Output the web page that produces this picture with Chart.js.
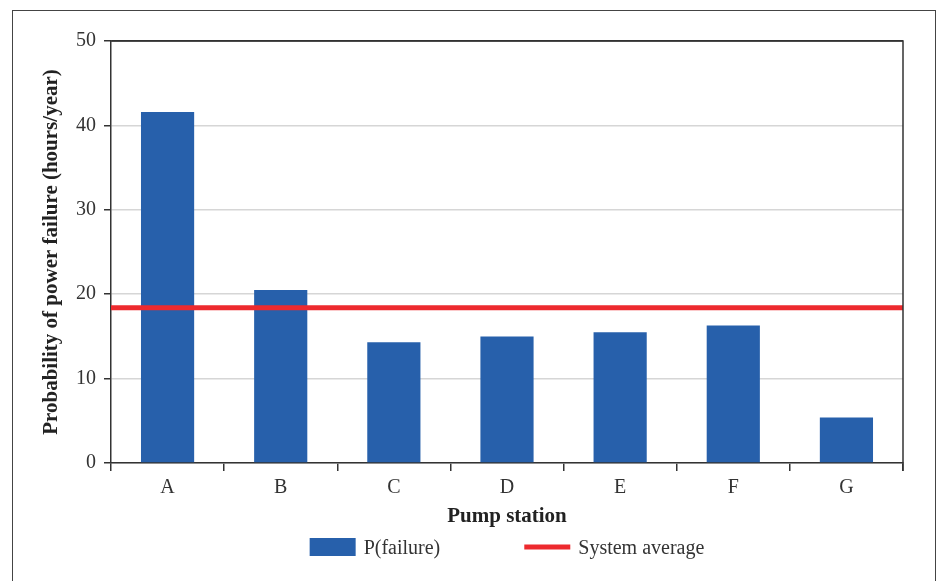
<!DOCTYPE html>
<html>
<head>
<meta charset="utf-8">
<script src="https://cdn.jsdelivr.net/npm/chart.js@4"></script>
<style>
  html, body { margin: 0; padding: 0; background: #fff; overflow: hidden; }
  #frame { position: absolute; left: 12px; top: 10px; width: 922px; height: 600px; border: 1.5px solid #444; }
  #wrap { position: absolute; left: 0; top: 0; width: 940px; height: 581px; }
</style>
</head>
<body>
<div id="frame"></div>
<div id="wrap"><canvas id="myChart" width="940" height="581"></canvas></div>
<script>
// pump stations and yearly failure hours
var stations = ['A', 'B', 'C', 'D', 'E', 'F', 'G'];
var failureHours = [41.6, 20.5, 14.3, 15.0, 15.5, 16.3, 5.4];
var systemAverage = [18.4, 18.4];
var avgSpan = [0, 1]; // across the whole plot width
var yTicks = [0, 10, 20, 30, 40, 50];

var serif = "'Liberation Serif', 'Times New Roman', serif";
var ctx = document.getElementById('myChart').getContext('2d');

// draws the top and right edge of the plot box
var plotBox = {
  id: 'plotBox',
  afterDatasetsDraw: function(chart) {
    var a = chart.chartArea;
    var c = chart.ctx;
    c.save();
    c.strokeStyle = '#333';
    c.lineWidth = 1.5;
    c.beginPath();
    c.moveTo(a.left, a.top);
    c.lineTo(a.right, a.top);
    c.lineTo(a.right, a.bottom + 8);
    c.stroke();
    c.restore();
  }
};

// legend under the axis title, items spaced apart like the original
var bottomLegend = {
  id: 'bottomLegend',
  afterDraw: function(chart) {
    var c = chart.ctx;
    var a = chart.chartArea;
    var ds = chart.data.datasets;
    c.save();
    c.font = '20px ' + serif;
    c.textBaseline = 'middle';
    var boxW = 46, gapText = 8, gapItems = 84, y = 547;
    var w1 = c.measureText(ds[0].label).width;
    var w2 = c.measureText(ds[1].label).width;
    var total = boxW + gapText + w1 + gapItems + boxW + gapText + w2;
    var x = (a.left + a.right) / 2 - total / 2;
    c.fillStyle = ds[0].backgroundColor;
    c.fillRect(x, y - 9, boxW, 18);
    c.fillStyle = '#333';
    c.fillText(ds[0].label, x + boxW + gapText, y + 2);
    x += boxW + gapText + w1 + gapItems;
    c.strokeStyle = ds[1].borderColor;
    c.lineWidth = ds[1].borderWidth;
    c.beginPath();
    c.moveTo(x, y);
    c.lineTo(x + boxW, y);
    c.stroke();
    c.fillText(ds[1].label, x + boxW + gapText, y + 2);
    c.restore();
  }
};

var myChart = new Chart(ctx, {
  type: 'bar',
  data: {
    labels: stations,
    datasets: [{
      label: 'P(failure)',
      data: failureHours,
      backgroundColor: '#2760ab',
      barPercentage: 0.47,
      categoryPercentage: 1,
      grouped: false,
      order: 1
    },
    {
      type: 'line',
      label: 'System average',
      data: avgSpan.map(function(v, i) { return {x: v, y: systemAverage[i]}; }),
      xAxisID: 'x2',
      borderColor: '#ed2a2e',
      borderWidth: 5,
      pointRadius: 0,
      fill: false,
      order: 0
    }]
  },
  options: {
    responsive: false,
    animation: false,
    layout: { padding: { top: 41, right: 37, left: 0, bottom: 0 } },
    scales: {
      x: {
        grid: { offset: true, drawOnChartArea: false, tickLength: 8, tickColor: '#333', lineWidth: 1.5 },
        border: { color: '#333', width: 1.5 },
        ticks: { color: '#333', font: { family: serif, size: 20 }, padding: 5 },
        title: { display: true, text: 'Pump station', color: '#222',
                 font: { family: serif, size: 21, weight: 'bold' }, padding: { top: 0, bottom: 52 } },
        afterFit: function(scale) { scale.height = 118; }
      },
      x2: { type: 'linear', min: 0, max: 1, display: false, offset: false, grid: { offset: false } },
      y: {
        min: 0,
        max: 50,
        afterBuildTicks: function(scale) { scale.ticks = yTicks.map(function(v) { return {value: v}; }); },
        grid: {
          color: function(c) { return c.tick && c.tick.value === 50 ? '#333' : '#d6d6d6'; },
          lineWidth: 1.5,
          tickLength: 7,
          tickColor: '#333'
        },
        border: { color: '#333', width: 1.5 },
        ticks: { color: '#333', font: { family: serif, size: 20 }, padding: 8 },
        title: { display: true, text: 'Probability of power failure (hours/year)', color: '#222',
                 font: { family: serif, size: 21, weight: 'bold' }, padding: { top: 39, bottom: 0 } },
        afterFit: function(scale) { scale.width = 111; }
      }
    },
    plugins: {
      legend: { display: false },
      tooltip: { enabled: false }
    }
  },
  plugins: [plotBox, bottomLegend]
});
</script>
</body>
</html>
